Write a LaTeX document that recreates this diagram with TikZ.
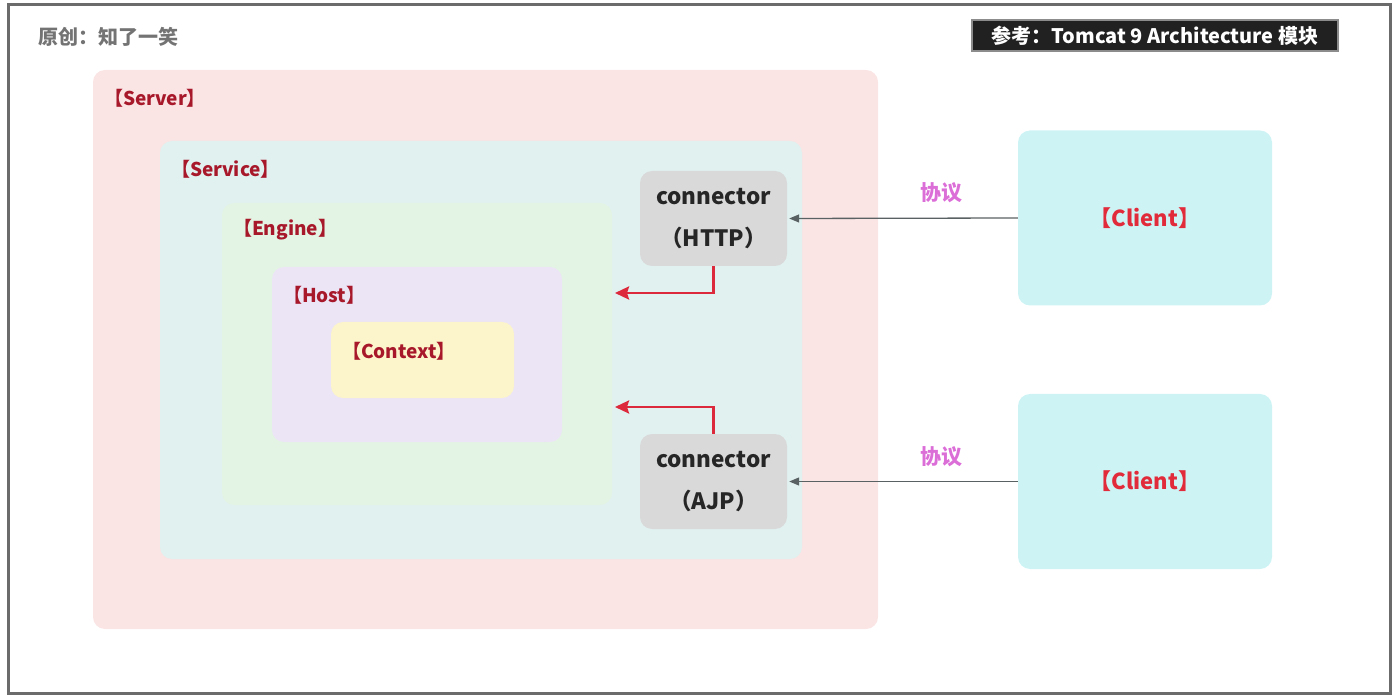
\documentclass[tikz,border=0pt]{standalone}
\usepackage{fontspec}
\setmainfont{Noto Sans CJK SC}
\usepackage{xcolor}
\usepackage{tikz}
\usetikzlibrary{arrows.meta,positioning,calc}
\definecolor{frame}{HTML}{6B6B6B}
\definecolor{serverbg}{HTML}{FAE4E4}
\definecolor{servicebg}{HTML}{E1F1F0}
\definecolor{enginebg}{HTML}{E4F4E4}
\definecolor{hostbg}{HTML}{EBE5F6}
\definecolor{contextbg}{HTML}{FCF4CA}
\definecolor{connbg}{HTML}{D9D9D9}
\definecolor{clientbg}{HTML}{CEF3F5}
\definecolor{tagred}{HTML}{A8182B}
\definecolor{clientred}{HTML}{E22B3A}
\definecolor{proto}{HTML}{DC6ED8}
\definecolor{flowred}{HTML}{DC2A3C}
\definecolor{wire}{HTML}{5A6163}

\begin{document}
\begin{tikzpicture}[
    x=1pt, y=-1pt,
    box/.style={rounded corners=12pt, inner sep=0pt},
    tag/.style={anchor=west, inner sep=0pt, text=tagred,
                font=\fontsize{19}{21}\selectfont\bfseries},
    conn/.style={box, fill=connbg, minimum width=147pt, minimum height=95pt,
                 align=center, text=black!85,
                 font=\fontsize{22.5}{42}\selectfont\bfseries},
    client/.style={box, fill=clientbg, minimum width=254pt, minimum height=175pt,
                   text=clientred, font=\fontsize{22}{24}\selectfont\bfseries},
    wirearr/.style={-{Triangle[length=10pt,width=8pt]}, wire, line width=1.3pt,
                    shorten >=2pt},
    flow/.style={-{Stealth[length=14pt,width=13pt,inset=2pt]}, flowred,
                 line width=2.6pt},
    protolbl/.style={text=proto, font=\fontsize{21}{23}\selectfont\bfseries}
  ]
  \useasboundingbox (0,0) rectangle (1400,700);
  % Frame
  \draw[frame, line width=3pt] (8,5) rectangle (1390,693);
  \node[anchor=west, inner sep=0pt, text=black!55,
        font=\fontsize{20}{22}\selectfont\bfseries] (author) at (38,37) {原创：知了一笑};
  \node[fill=black!87, draw=black!45, line width=1.5pt, minimum width=366pt,
        minimum height=31pt, inner sep=0pt, text=white,
        font=\fontsize{20}{22}\selectfont\bfseries] (ref) at (1155,35.5)
        {参考：Tomcat 9 Architecture 模块};
  % Server
  \node[box, fill=serverbg, minimum width=785pt, minimum height=559pt] (server) at (485.5,349.5) {};
  \node[tag] (serverTag) at ([shift={(11,28)}]server.north west) {【Server】};
  % Service
  \node[box, fill=servicebg, minimum width=642pt, minimum height=418pt] (service) at (481,350) {};
  \node[tag] (serviceTag) at ([shift={(11,28)}]service.north west) {【Service】};
  % Engine
  \node[box, fill=enginebg, minimum width=390pt, minimum height=302pt] (engine) at (417,354) {};
  \node[tag] (engineTag) at ([shift={(11,27)}]engine.north west) {【Engine】};
  % Host
  \node[box, fill=hostbg, minimum width=290pt, minimum height=175pt] (host) at (417,354.5) {};
  \node[tag] (hostTag) at ([shift={(11,28)}]host.north west) {【Host】};
  % Context
  \node[box, fill=contextbg, minimum width=183pt, minimum height=76pt] (context) at (422.5,360) {};
  \node[tag] (contextTag) at ([shift={(11,29)}]context.north west) {【Context】};
  % Connectors
  \node[conn] (http) at (713.5,218.5) {connector\\（HTTP）};
  \node[conn] (ajp) at (713.5,481.5) {connector\\（AJP）};
  % Clients
  \node[client] (client1) at (1145,218) {【Client】};
  \node[client] (client2) at (1145,481.5) {【Client】};

  \coordinate (engineIn1) at (615,293);
  \coordinate (engineIn2) at (615,407);

  \draw[wirearr] (client1.west) -- node[pos=0.33, above=11pt, protolbl]{协议} (http.east);
  \draw[wirearr] (client2.west |- ajp.east) -- node[pos=0.33, above=11pt, protolbl]{协议} (ajp.east);
  \draw[flow] (http.south) |- (engineIn1);
  \draw[flow] (ajp.north) |- (engineIn2);
\end{tikzpicture}
\end{document}
